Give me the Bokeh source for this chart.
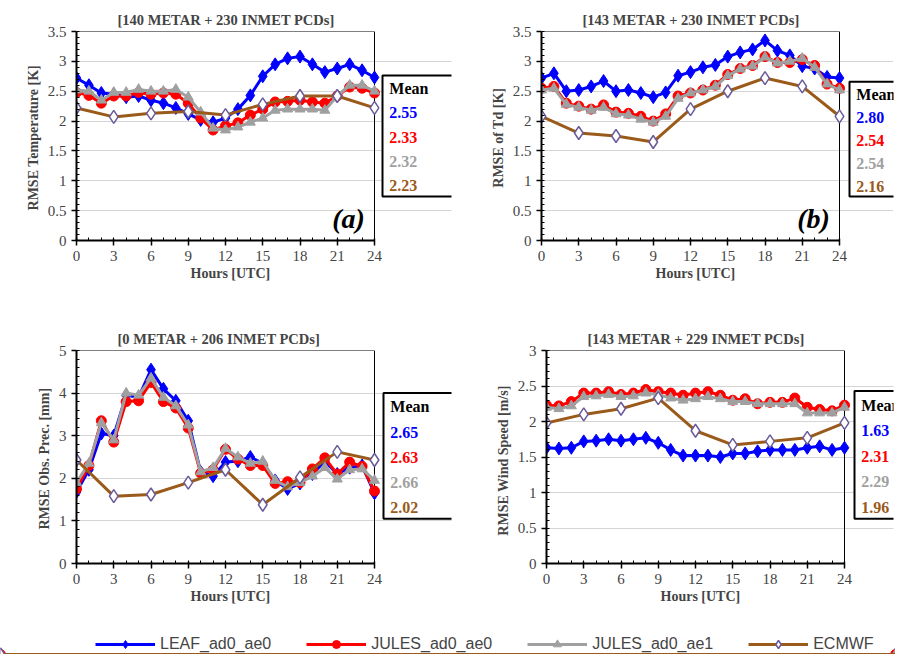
from bokeh.plotting import figure
from bokeh.models import Legend, LegendItem, FixedTicker, Range1d, Title
from bokeh.core.properties import value
from bokeh.layouts import column, row
from bokeh.embed import file_html
from bokeh.resources import INLINE

hours = list(range(25))
hours3 = list(range(0, 25, 3))
series_names = ["LEAF_ad0_ae0", "JULES_ad0_ae0", "JULES_ad0_ae1", "ECMWF"]
colors = ["#0000ff", "#ff0000", "#a0a0a0", "#9a5a1a"]

# (a) temperature
leaf_a = [2.72, 2.6, 2.47, 2.45, 2.4, 2.42, 2.35, 2.3, 2.22, 2.12, 2.02, 1.98, 2.05,
          2.2, 2.43, 2.75, 2.95, 3.05, 3.08, 2.95, 2.82, 2.88, 2.95, 2.85, 2.73]
jul0_a = [2.48, 2.43, 2.3, 2.42, 2.42, 2.48, 2.45, 2.47, 2.45, 2.3, 2.05, 1.85, 1.92,
          1.97, 2.1, 2.2, 2.32, 2.33, 2.35, 2.32, 2.3, 2.42, 2.57, 2.55, 2.47]
jul1_a = [2.52, 2.5, 2.35, 2.48, 2.48, 2.53, 2.5, 2.5, 2.53, 2.4, 2.15, 1.88, 1.85,
          1.9, 1.98, 2.05, 2.18, 2.2, 2.2, 2.2, 2.18, 2.42, 2.6, 2.6, 2.5]
ecm_a = [2.22, 2.07, 2.13, 2.16, 2.1, 2.28, 2.42, 2.42, 2.22]
# (b) dew point
leaf_b = [2.72, 2.8, 2.5, 2.52, 2.58, 2.67, 2.5, 2.52, 2.47, 2.4, 2.48, 2.76, 2.82,
          2.9, 2.94, 3.08, 3.15, 3.2, 3.35, 3.18, 3.1, 2.92, 2.88, 2.74, 2.72]
jul0_b = [2.55, 2.58, 2.3, 2.25, 2.2, 2.27, 2.15, 2.13, 2.08, 2.0, 2.12, 2.42, 2.47,
          2.52, 2.6, 2.78, 2.88, 2.93, 3.08, 2.98, 2.98, 3.03, 2.93, 2.62, 2.55]
jul1_b = [2.52, 2.55, 2.28, 2.23, 2.18, 2.23, 2.12, 2.1, 2.03, 1.98, 2.08, 2.38, 2.47,
          2.52, 2.58, 2.76, 2.87, 2.92, 3.07, 2.97, 3.0, 3.05, 2.9, 2.62, 2.52]
ecm_b = [2.08, 1.8, 1.75, 1.65, 2.2, 2.5, 2.72, 2.58, 2.08]
# (c) precipitation
leaf_c = [1.68, 2.2, 3.05, 3.0, 3.95, 3.9, 4.55, 4.1, 3.82, 3.35, 2.15, 2.05, 2.38,
          2.4, 2.5, 2.35, 1.95, 1.75, 1.88, 2.1, 2.4, 2.1, 2.25, 2.3, 1.65]
jul0_c = [1.75, 2.3, 3.35, 2.85, 3.8, 3.82, 4.25, 3.8, 3.65, 3.18, 2.12, 2.2, 2.68,
          2.45, 2.3, 2.3, 1.88, 1.92, 1.9, 2.22, 2.48, 2.1, 2.38, 2.28, 1.7]
jul1_c = [1.9, 2.35, 3.3, 2.9, 4.0, 3.95, 4.35, 3.9, 3.7, 3.25, 2.15, 2.25, 2.7,
          2.5, 2.35, 2.4, 1.95, 1.8, 1.9, 2.05, 2.25, 1.98, 2.2, 2.22, 1.95]
ecm_c = [2.43, 1.58, 1.62, 1.9, 2.2, 1.38, 2.02, 2.62, 2.43]
# (d) wind speed
leaf_d = [1.63, 1.62, 1.63, 1.72, 1.73, 1.75, 1.73, 1.75, 1.77, 1.7, 1.6, 1.52, 1.52,
          1.52, 1.5, 1.55, 1.55, 1.58, 1.6, 1.6, 1.6, 1.63, 1.65, 1.6, 1.63]
jul0_d = [2.23, 2.22, 2.28, 2.4, 2.4, 2.42, 2.38, 2.4, 2.45, 2.42, 2.4, 2.37, 2.4,
          2.42, 2.37, 2.3, 2.32, 2.25, 2.27, 2.27, 2.33, 2.2, 2.17, 2.15, 2.23]
jul1_d = [2.2, 2.18, 2.22, 2.35, 2.36, 2.38, 2.35, 2.36, 2.4, 2.38, 2.33, 2.3, 2.32,
          2.35, 2.32, 2.28, 2.28, 2.25, 2.25, 2.25, 2.25, 2.12, 2.12, 2.12, 2.2]
ecm_d = [1.98, 2.1, 2.18, 2.33, 1.87, 1.67, 1.72, 1.77, 1.98]

means_a = ["2.55", "2.33", "2.32", "2.23"]
means_b = ["2.80", "2.54", "2.54", "2.16"]
means_c = ["2.65", "2.63", "2.66", "2.02"]
means_d = ["1.63", "2.31", "2.29", "1.96"]

SERIF = "Liberation Serif"
SERIF_V = value(SERIF)
PX_PER_HOUR = 298 / 24


def draw_series(p, leaf, jul0, jul1, ecm):
    r = []
    r.append((p.line(hours, leaf, color=colors[0], line_width=3),
              p.scatter(hours, leaf, marker="diamond", size=13, color=colors[0])))
    r.append((p.line(hours, jul0, color=colors[1], line_width=3),
              p.scatter(hours, jul0, marker="circle", size=10, color=colors[1])))
    r.append((p.line(hours, jul1, color=colors[2], line_width=3),
              p.scatter(hours, jul1, marker="triangle", size=10, color=colors[2])))
    r.append((p.line(hours3, ecm, color=colors[3], line_width=3),
              p.scatter(hours3, ecm, marker="diamond", size=13, fill_color="white",
                        line_color="#6a5a9a", line_width=1.5)))
    return r


def panel(title, ylabel, ymax, ystep, data, means, tag, w, h, left, top, bottom,
          box_gap, box_bot, box_top):
    xend = (w - left - 2) / PX_PER_HOUR
    p = figure(width=w, height=h, x_range=Range1d(0, xend), y_range=Range1d(0, ymax),
               output_backend="svg", toolbar_location=None,
               min_border_left=left, min_border_right=2,
               min_border_top=top, min_border_bottom=bottom)
    p.title.text = title
    p.title.align = "left"
    p.title.text_font = SERIF
    p.title.text_font_size = "14.5px"
    p.title.text_font_style = "bold"
    p.title.standoff = 7
    p.title.offset = 149 - 108
    xl = Title(text="Hours [UTC]", align="left", offset=149 - 35, text_font=SERIF,
               text_font_size="14px", text_font_style="bold", standoff=0)
    p.add_layout(xl, "below")
    nmaj = int(round(ymax / ystep))
    p.xaxis.ticker = FixedTicker(ticks=hours3, minor_ticks=hours)
    p.yaxis.ticker = FixedTicker(ticks=[i * ystep for i in range(nmaj + 1)],
                                 minor_ticks=[i * ystep / 5 for i in range(nmaj * 5 + 1)])
    p.xaxis.bounds = (0, 24)
    p.yaxis.axis_label = ylabel
    for ax in (p.xaxis[0], p.yaxis[0]):
        ax.axis_label_text_font = SERIF
        ax.axis_label_text_font_style = "bold"
        ax.axis_label_text_font_size = "14px"
        ax.major_label_text_font = SERIF
        ax.major_label_text_font_size = "15px"
        ax.axis_line_width = 2
        ax.major_tick_line_width = 1.5
        ax.axis_label_standoff = 4
    p.yaxis.major_tick_in = 0
    p.yaxis.major_tick_out = 5
    p.yaxis.minor_tick_in = 3
    p.yaxis.minor_tick_out = 0
    p.xaxis.major_tick_out = 5
    p.xaxis.minor_tick_in = 3
    p.xaxis.minor_tick_out = 0
    p.xgrid.visible = False
    p.ygrid.grid_line_color = "#aaaaaa"
    p.ygrid.grid_line_dash = "1 1"
    p.ygrid.bounds = (0, 24)
    p.outline_line_color = None
    p.line([0, 24, 24], [ymax, ymax, 0], color="black", line_width=1)
    draw_series(p, *data)

    # mean box
    bx0 = 24 + box_gap / PX_PER_HOUR
    y0, y1 = box_bot * ymax, box_top * ymax
    p.quad(left=bx0, right=xend + 1, bottom=y0, top=y1, fill_color="white",
           line_color="black", line_width=2)
    lines = [("Mean", "black")] + list(zip(means, colors))
    step = (y1 - y0) / 5.0
    for i, (t, c) in enumerate(lines):
        p.text([bx0 + 0.55], [y1 - step * (i + 0.55)], text=[t], text_color=c,
               text_font=SERIF_V, text_font_size="16px", text_font_style="bold",
               text_baseline="middle")
    if tag:
        p.text([20.6], [ymax * 0.03], text=["(" + tag + ")"], text_font=SERIF_V,
               text_font_size="28px", text_font_style="bold italic")
    return p


pa = panel("[140 METAR + 230 INMET PCDs]", "RMSE  Temperature [K]", 3.5, 0.5,
           (leaf_a, jul0_a, jul1_a, ecm_a), means_a, "a", 453, 304, 76, 28, 64,
           8, 0.21, 0.79)
pb = panel("[143 METAR + 230 INMET PCDs]", "RMSE  of Td [K]", 3.5, 0.5,
           (leaf_b, jul0_b, jul1_b, ecm_b), means_b, "b", 442, 304, 88, 31, 61,
           10, 0.21, 0.76)
pc = panel("[0 METAR + 206 INMET PCDs]", "RMSE  Obs. Prec. [mm]", 5, 1,
           (leaf_c, jul0_c, jul1_c, ecm_c), means_c, None, 453, 310, 76, 46, 51,
           9, 0.21, 0.80)
pd_ = panel("[143 METAR + 229 INMET PCDs]", "RMSE   Wind Speed [m/s]", 3, 0.5,
            (leaf_d, jul0_d, jul1_d, ecm_d), means_d, None, 442, 310, 93, 45, 51,
            10, 0.21, 0.81)

leg = figure(width=895, height=40, output_backend="svg", toolbar_location=None,
             x_range=Range1d(0, 1), y_range=Range1d(0, 1), min_border=0)
leg.axis.visible = False
leg.grid.visible = False
leg.outline_line_color = None
rends = draw_series(leg, [None] * 25, [None] * 25, [None] * 25, [None] * 9)
items = [LegendItem(label=n, renderers=list(r)) for n, r in zip(series_names, rends)]
legend = Legend(items=items, orientation="horizontal", location=(95, 0),
                label_text_font="Liberation Sans", label_text_font_size="16px",
                glyph_width=60, spacing=35, border_line_color=None,
                background_fill_alpha=0)
leg.add_layout(legend, "center")

layout = column(row(pa, pb), row(pc, pd_), leg, spacing=0)
open("out.html", "w").write(file_html(layout, INLINE))
